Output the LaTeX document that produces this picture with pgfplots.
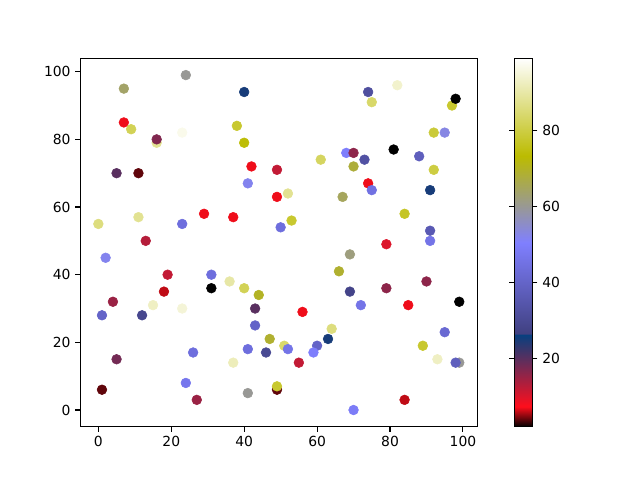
\documentclass[border=0pt]{standalone}
\usepackage{fontspec}
\setmainfont{DejaVu Sans}
\usepackage{pgfplots}
\usepackage{pgfplotstable}
\pgfplotsset{compat=1.18}
\pgfplotstableread{
x y c
7 95 64
24 99 60
40 94 25
7 85 7
9 83 82
38 84 78
16 79 88
16 80 17
23 82 97
40 79 74
5 70 20
11 70 4
42 72 7
49 71 12
41 67 52
49 63 7
52 64 88
0 55 86
11 57 88
23 55 44
29 58 7
37 57 7
50 54 44
13 50 13
74 94 32
82 96 94
75 91 84
97 90 78
98 92 2
92 82 79
95 82 53
81 77 2
88 75 38
68 76 50
70 76 16
73 74 33
61 74 83
70 72 68
92 71 80
74 67 7
75 65 45
91 65 25
67 63 65
84 58 77
53 56 78
91 53 36
91 50 46
79 49 10
2 45 52
19 40 12
31 40 44
31 36 2
36 38 90
40 36 82
44 34 70
18 35 6
4 32 15
15 31 93
23 30 95
1 28 40
12 28 29
43 30 20
43 25 40
47 21 69
51 19 84
52 18 46
41 18 44
46 17 30
26 17 44
5 15 18
37 14 92
24 8 47
1 6 4
27 3 15
41 5 60
49 6 4
49 7 78
69 46 62
66 41 69
69 35 28
79 36 16
90 38 16
72 31 46
56 29 7
85 31 7
99 32 2
95 23 42
64 24 86
63 21 25
60 19 40
59 17 50
55 14 12
89 19 78
93 15 93
99 14 60
98 14 38
84 3 6
70 0 49
}\pts
\begin{document}
\begin{tikzpicture}
\path[use as bounding box] (-57.8pt,-38.4pt) rectangle (402.9pt,307.2pt);
\begin{axis}[
  at={(0,0)}, anchor=south west,
  scale only axis, width=285.8pt, height=265.2pt,
  xmin=-4.95, xmax=103.95, ymin=-4.95, ymax=103.95,
  xtick={0,20,40,60,80,100}, ytick={0,20,40,60,80,100},
  tick align=outside, tick pos=left, major tick length=3.5pt,
  axis line style={line width=0.8pt},
  every tick/.style={black, line width=0.8pt},
  tick label style={font=\fontsize{10}{12}\selectfont},
  /pgf/number format/assume math mode=true,
  colormap={stern}{rgb(0pt)=(0,0,0); rgb(55pt)=(1,0.055,0.11); rgb(250pt)=(0.027,0.25,0.5); rgb(251pt)=(0.25,0.251,0.502); rgb(500pt)=(0.5,0.5,1); rgb(735pt)=(0.735,0.735,0); rgb(1000pt)=(1,1,1)},
  point meta min=2, point meta max=99,
  colorbar,
  colorbar style={
    scale only axis, width=13.25pt, height=265.2pt,
    at={(parent axis.north east)}, anchor=north west, xshift=18pt,
    ytick={20,40,60,80}, tick align=outside, major tick length=3.5pt,
    yticklabel pos=right,
    axis line style={line width=0.8pt},
    every tick/.style={black, line width=0.8pt},
    tick label style={font=\fontsize{10}{12}\selectfont},
    /pgf/number format/assume math mode=true,
  },
]
\addplot[scatter, only marks, mark=*, mark size=3.5pt, scatter src=explicit,
  scatter/use mapped color={draw=mapped color, fill=mapped color}]
  table[x=x, y=y, meta=c] {\pts};
\end{axis}
\end{tikzpicture}
\end{document}
